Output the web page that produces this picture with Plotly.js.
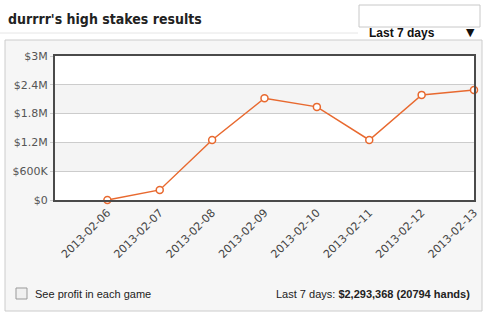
<!DOCTYPE html>
<html><head><meta charset="utf-8">
<script src="https://cdn.plot.ly/plotly-3.0.1.min.js"></script>
<style>html,body{margin:0;padding:0;background:#fff;}#chart{width:489px;height:324px;}</style>
</head><body><div id="chart"></div>
<script>
const dates = ['2013-02-06','2013-02-07','2013-02-08','2013-02-09','2013-02-10','2013-02-11','2013-02-12','2013-02-13'];
const profit = [0, 210000, 1250000, 2120000, 1940000, 1250000, 2190000, 2293368];
const yTickVals = [0, 600000, 1200000, 1800000, 2400000, 3000000];
const yTickText = ['$0', '$600K', '$1.2M', '$1.8M', '$2.4M', '$3M'];
const bands = [[600000, 1200000], [1800000, 2400000]];

const W = 489, H = 324, L = 55, R = 474, T = 56, B = 200;
const px = x => (x - L) / (R - L);
const py = y => (B - y) / (B - T);

const shapes = [
  {type:'rect', xref:'paper', yref:'paper', x0:px(5), x1:px(482), y0:py(311), y1:py(40),
   fillcolor:'#f6f6f6', line:{color:'#cccccc', width:1}, layer:'below'},
  {type:'rect', xref:'paper', yref:'paper', x0:0, x1:1, y0:0, y1:1,
   fillcolor:'#ffffff', line:{width:0}, layer:'below'},
  {type:'line', xref:'paper', yref:'paper', x0:px(0), x1:px(358), y0:py(33), y1:py(33),
   line:{color:'#e6e6e6', width:1}},
  {type:'rect', xref:'paper', yref:'paper', x0:px(359), x1:px(480), y0:py(27), y1:py(5),
   fillcolor:'#ffffff', line:{color:'#c8c8c8', width:1}},
  {type:'rect', xref:'paper', yref:'paper', x0:px(16), x1:px(27), y0:py(299), y1:py(288),
   fillcolor:'#f0f0f0', line:{color:'#999999', width:1}}
];
bands.forEach(b => shapes.push({type:'rect', xref:'paper', yref:'y', x0:0, x1:1, y0:b[0], y1:b[1],
  fillcolor:'#f4f4f4', line:{width:0}, layer:'below'}));

const annotations = [
  {text:"<b>durrrr's high stakes results</b>", xref:'paper', yref:'paper', x:px(6), y:py(19), xanchor:'left', yanchor:'middle',
   showarrow:false, font:{family:'DejaVu Sans Condensed, DejaVu Sans', size:14, color:'#222'}},
  {text:'<b>Last 7 days</b>', xref:'paper', yref:'paper', x:px(367), y:py(33), xanchor:'left', yanchor:'middle',
   showarrow:false, font:{family:'Liberation Sans', size:12, color:'#111'}},
  {text:'▼', xref:'paper', yref:'paper', x:px(470), y:py(33), xanchor:'center', yanchor:'middle',
   showarrow:false, font:{family:'DejaVu Sans', size:11, color:'#111'}},
  {text:'See profit in each game', xref:'paper', yref:'paper', x:px(33), y:py(294), xanchor:'left', yanchor:'middle',
   showarrow:false, font:{family:'Liberation Sans', size:11, color:'#222'}},
  {text:'Last 7 days: <b>$2,293,368 (20794 hands)</b>', xref:'paper', yref:'paper', x:px(472), y:py(294), xanchor:'right', yanchor:'middle',
   showarrow:false, font:{family:'Liberation Sans', size:11, color:'#222'}}
];

const trace = {
  x: dates, y: profit, type:'scatter', mode:'lines+markers', cliponaxis:false,
  line:{color:'#e8692f', width:1.5},
  marker:{size:7, color:'#ffffff', line:{color:'#e8692f', width:1.5}},
  hoverinfo:'x+y'
};

const layout = {
  width:W, height:H,
  margin:{l:L, r:W-R, t:T, b:H-B, pad:0},
  paper_bgcolor:'#ffffff', plot_bgcolor:'rgba(0,0,0,0)',
  showlegend:false,
  xaxis:{type:'date', range:['2013-02-05','2013-02-13'], tickvals:dates, ticktext:dates,
    tickangle:-45, showgrid:false, zeroline:false, showline:true, mirror:true,
    linecolor:'#4a4a4a', linewidth:2, ticks:'', ticklen:0,
    tickfont:{family:'DejaVu Sans', size:11, color:'#444'}},
  yaxis:{range:[0,3000000], tickvals:yTickVals, ticktext:yTickText, showgrid:true,
    gridcolor:'#cccccc', gridwidth:1, zeroline:false, showline:true, mirror:true,
    linecolor:'#4a4a4a', linewidth:2, ticks:'outside', ticklen:3, tickcolor:'#cccccc',
    tickfont:{family:'DejaVu Sans', size:11, color:'#555'}},
  shapes:shapes, annotations:annotations
};
Plotly.newPlot('chart', [trace], layout, {displayModeBar:false, staticPlot:true});
</script></body></html>
